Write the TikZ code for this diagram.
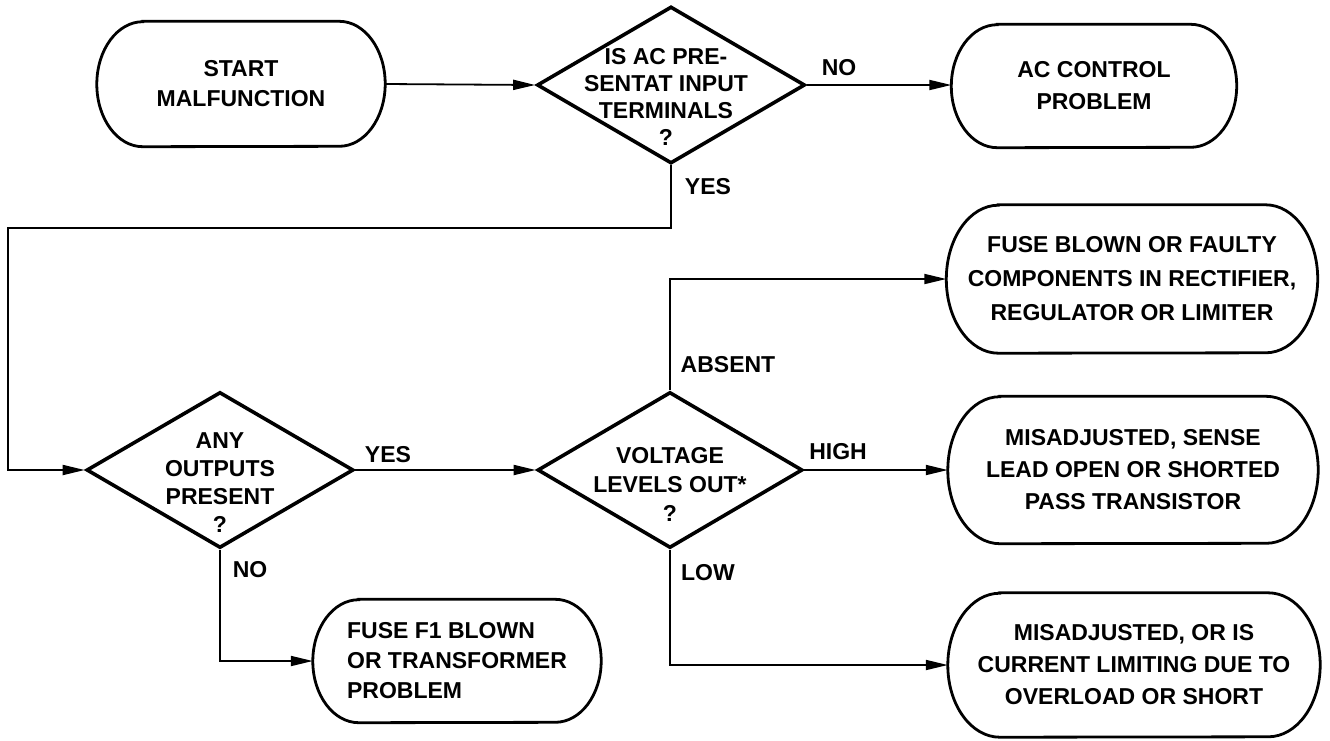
\documentclass[tikz,border=0pt]{standalone}
\usepackage{fontspec}
\setmainfont{Liberation Sans}
\usetikzlibrary{shapes.geometric,arrows.meta}
\newcommand\stadium[3]{%
  \draw[outline] ([xshift=#2]#1.north west) -- ([xshift=-#2]#1.north east)
    arc[start angle=90,end angle=-90,x radius=#2,y radius=#3]
    -- ([xshift=#2]#1.south west)
    arc[start angle=270,end angle=90,x radius=#2,y radius=#3] -- cycle;}
\begin{document}
\begin{tikzpicture}[x=1pt,y=-1pt,
  txt/.style={font=\bfseries\fontsize{23}{32}\selectfont, align=center, inner sep=0pt},
  lbl/.style={font=\bfseries\fontsize{23}{28}\selectfont, inner sep=0pt},
  box/.style={txt, rectangle, draw=none},
  dia/.style={diamond, draw, line width=3.6pt, inner sep=0pt, line join=miter},
  outline/.style={line width=2.8pt},
  conn/.style={line width=1.8pt, -{Triangle[length=22pt,width=10pt]}},
  plain/.style={line width=1.8pt}]
\useasboundingbox (0,0) rectangle (1330,740);

% terminal / result boxes
\node[box, minimum width=288pt, minimum height=125pt, font=\bfseries\fontsize{23}{30}\selectfont] (start) at (241,84) {START\\MALFUNCTION};
\node[box, minimum width=285pt, minimum height=123pt] (acp) at (1094,86) {AC CONTROL\\PROBLEM};
\node[box, minimum width=371pt, minimum height=148pt, font=\bfseries\fontsize{23}{34}\selectfont] (fuse) at (1132,279) {FUSE BLOWN OR FAULTY\\COMPONENTS IN RECTIFIER,\\REGULATOR OR LIMITER};
\node[box, minimum width=370pt, minimum height=147pt] (mis1) at (1133,470) {MISADJUSTED, SENSE\\LEAD OPEN OR SHORTED\\PASS TRANSISTOR};
\node[box, minimum width=372pt, minimum height=144pt] (mis2) at (1134,665) {MISADJUSTED, OR IS\\CURRENT LIMITING DUE TO\\OVERLOAD OR SHORT};
\node[box, minimum width=288pt, minimum height=123pt, align=left, font=\bfseries\fontsize{23}{30}\selectfont] (f1) at (457,661) {FUSE F1 BLOWN\\OR TRANSFORMER\\PROBLEM};

\stadium{start}{46pt}{62.5pt}
\stadium{acp}{46pt}{61.5pt}
\stadium{fuse}{52pt}{74pt}
\stadium{mis1}{52pt}{73.5pt}
\stadium{mis2}{52pt}{72pt}
\stadium{f1}{46pt}{61.5pt}

% decisions
\node[dia, minimum width=268pt, minimum height=157pt] (d1) at (671,85) {};
\node[txt, font=\bfseries\fontsize{23}{27}\selectfont] (d1t) at (666,97) {IS AC PRE-\\SENTAT INPUT\\TERMINALS\\?};
\node[dia, minimum width=267pt, minimum height=156pt] (d2) at (220,470) {};
\node[txt, font=\bfseries\fontsize{23}{28}\selectfont] (d2t) at (220,483) {ANY\\OUTPUTS\\PRESENT\\?};
\node[dia, minimum width=265pt, minimum height=156pt] (d3) at (670,470) {};
\node[txt, font=\bfseries\fontsize{23}{29}\selectfont] (d3t) at (670,484) {VOLTAGE\\LEVELS OUT*\\?};

% connectors
\coordinate (yl) at (8,228);
\draw[conn] (start.east) -- (d1.west);
\draw[conn] (d1.east) -- (d1.east -| acp.west);
\draw[conn] (d1.south) |- (yl) |- (d2.west);
\draw[conn] (d2.east) -- (d3.west);
\draw[conn] (d3.north) |- (fuse.west);
\draw[conn] (d3.east) -- (mis1.west);
\draw[conn] (d3.south) |- (mis2.west);
\draw[conn] (d2.south) |- (f1.west);

% branch labels
\node[lbl] (lno1) at (839,68) {NO};
\node[lbl] (lyes1) at (708,187) {YES};
\node[lbl] (lyes2) at (388,455) {YES};
\node[lbl] (labs) at (728,365) {ABSENT};
\node[lbl] (lhigh) at (838,452) {HIGH};
\node[lbl] (llow) at (708,573) {LOW};
\node[lbl] (lno2) at (250,570) {NO};
\end{tikzpicture}
\end{document}
